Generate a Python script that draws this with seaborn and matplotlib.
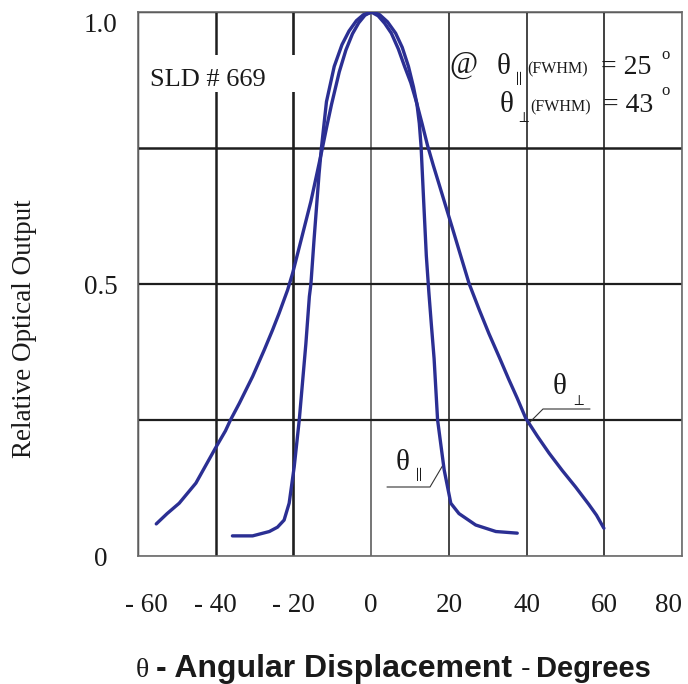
import matplotlib
matplotlib.use("Agg")
import matplotlib.pyplot as plt
from matplotlib.patches import Rectangle
from matplotlib.transforms import ScaledTranslation
import seaborn as sns
import pandas as pd

# ---- data ----
perp_deg = [-55.3, -52.5, -49.4, -45.1, -40.1, -37.5, -36.2, -33.9, -30.5, -27.5,
            -25.4, -23.7, -21.5, -20.2, -17.7, -15.5, -13.8, -12.6, -11.4, -10.2,
            -8.2, -6.5, -4.8, -3.2, -1.6, 0.0, 1.8, 3.5, 5.2, 7.0,
            8.6, 10.2, 11.6, 13.1, 14.5, 16.0, 17.5, 19.2, 20.9, 22.6,
            25.2, 27.8, 30.3, 33.0, 35.4, 37.6, 39.8, 42.8, 45.8, 49.2,
            52.6, 56.0, 58.0, 59.9]
perp_val = [0.059, 0.078, 0.097, 0.134, 0.198, 0.23, 0.25, 0.281, 0.33, 0.379,
            0.415, 0.446, 0.489, 0.52, 0.59, 0.652, 0.708, 0.748, 0.79, 0.83,
            0.89, 0.93, 0.96, 0.98, 0.994, 1.0, 0.993, 0.979, 0.961, 0.932,
            0.90, 0.87, 0.836, 0.795, 0.755, 0.718, 0.683, 0.643, 0.603, 0.5625,
            0.501, 0.453, 0.409, 0.365, 0.325, 0.29, 0.253, 0.22, 0.189, 0.157,
            0.127, 0.095, 0.075, 0.051]

par_deg = [-35.7, -30.5, -26.2, -24.1, -22.4, -21.1, -19.8, -18.5, -16.8, -15.9,
           -15.5, -14.7, -13.4, -12.8, -11.5, -9.5, -7.5, -5.7, -3.8, -2.0,
           0.3, 2.2, 4.2, 6.3, 8.0, 9.6, 10.9, 11.8, 12.4, 12.85,
           13.5, 14.2, 14.85, 15.5, 16.2, 17.1, 18.8, 20.5, 22.6, 26.9,
           32.1, 37.6]
par_val = [0.037, 0.037, 0.045, 0.053, 0.066, 0.097, 0.164, 0.25, 0.39, 0.477,
           0.50, 0.581, 0.703, 0.75, 0.835, 0.90, 0.94, 0.965, 0.984, 0.995,
           1.0, 0.995, 0.982, 0.961, 0.935, 0.90, 0.862, 0.83, 0.795, 0.753,
           0.655, 0.552, 0.485, 0.425, 0.363, 0.25, 0.158, 0.097, 0.078, 0.057,
           0.045, 0.042]

x_ticks = [-60, -40, -20, 0, 20, 40, 60, 80]
x_ticklabels = ["- 60", "- 40", "- 20", "0", "20", "40", "60", "80"]
y_ticks = [0, 0.25, 0.5, 0.75, 1.0]
y_ticklabels = ["0", "", "0.5", "", "1.0"]

# ---- styling ----
sns.set_theme(style="white")
plt.rcParams["font.family"] = ["Liberation Serif", "DejaVu Serif"]
plt.rcParams["mathtext.fontset"] = "stix"

W, H = 688, 684
fig = plt.figure(figsize=(W / 100, H / 100), dpi=100)
L, R, T, B = 138, 682, 12, 556
ax = fig.add_axes([L / W, 1 - B / H, (R - L) / W, (B - T) / H])

CURVE = "#2b2f93"
df_perp = pd.DataFrame({"deg": perp_deg, "val": perp_val})
df_par = pd.DataFrame({"deg": par_deg, "val": par_val})
for d in (df_perp, df_par):
    sns.lineplot(data=d, x="deg", y="val", ax=ax, color=CURVE, lw=2.4,
                 estimator=None, sort=False, zorder=4,
                 solid_joinstyle="round", solid_capstyle="round")

ax.set_xlim(-60, 80)
ax.set_ylim(0, 1)
ax.set_xticks(x_ticks)
ax.set_xticklabels(x_ticklabels, fontsize=19.5)
ax.set_yticks(y_ticks)
ax.set_yticklabels(y_ticklabels, fontsize=19.5)
ax.tick_params(axis="x", length=0, pad=27, colors="#1a1a1a")
ax.tick_params(axis="y", length=0, pad=27, colors="#1a1a1a")
ylabs = ax.get_yticklabels()
for lab in ylabs:
    lab.set_horizontalalignment("center")
ylabs[-1].set_transform(ylabs[-1].get_transform()
                        + ScaledTranslation(0, -10 / 100, fig.dpi_scale_trans))
xlabs = ax.get_xticklabels()
xlabs[-1].set_horizontalalignment("right")
xlabs[0].set_transform(xlabs[0].get_transform()
                       + ScaledTranslation(8 / 100, 0, fig.dpi_scale_trans))
ax.grid(True, color="#1e1e1e", lw=1.4)
ax.set_axisbelow(True)
# the scanned grid has slightly uneven line weights
xgrid_w = [1.0, 1.8, 1.9, 1.1, 1.2, 1.2, 1.4, 1.0]
xgrid_c = ["#1e1e1e", "#1e1e1e", "#1e1e1e", "#505050", "#262626", "#262626", "#404040", "#1e1e1e"]
for gl, w, c in zip(ax.xaxis.get_gridlines(), xgrid_w, xgrid_c):
    gl.set_linewidth(w)
    gl.set_color(c)
ygrid_w = [1.0, 1.6, 1.6, 1.8, 1.0]
for gl, w in zip(ax.yaxis.get_gridlines(), ygrid_w):
    gl.set_linewidth(w)
for s in ax.spines.values():
    s.set_color("#6a6a6a")
    s.set_linewidth(1.2)
ax.set_xlabel("")
ax.set_ylabel("Relative Optical Output", fontsize=19.5, color="#1a1a1a")
ax.yaxis.set_label_coords((37 - L) / (R - L), (B - 329) / (B - T))

# white box behind the SLD label
ax.add_patch(Rectangle(((145 - L) / (R - L), (B - 92) / (B - T)),
                       (298 - 145) / (R - L), 37 / (B - T),
                       transform=ax.transAxes, facecolor="white",
                       edgecolor="none", zorder=1))

def ptext(px, py, s, **kw):
    kw.setdefault("ha", "left")
    kw.setdefault("va", "baseline")
    kw.setdefault("color", "#1a1a1a")
    fig.text(px / W, 1 - py / H, s, **kw)

ptext(150, 86, "SLD # 669", fontsize=19)

# top-right FWHM annotation
ptext(449, 73, "@", fontsize=22)
ptext(497, 74, "\u03b8", fontsize=21)
ptext(512, 82, r"$\parallel$", fontsize=11)
ptext(527, 73, "(FWHM)", fontsize=11.5)
ptext(601, 74, "= 25", fontsize=20)
ptext(661, 59, "o", fontsize=12)

ptext(500, 112, "\u03b8", fontsize=21)
ptext(516, 122, r"$\perp$", fontsize=11)
ptext(530, 111, "(FWHM)", fontsize=11.5)
ptext(603, 112, "= 43", fontsize=20)
ptext(661, 95, "o", fontsize=12)

# curve labels with leader lines
ptext(553, 394, "\u03b8", fontsize=21)
ptext(571, 405, r"$\perp$", fontsize=11)
ptext(396, 470, "\u03b8", fontsize=21)
ptext(412, 478, r"$\parallel$", fontsize=11)

def px2data(px, py):
    return (-60 + (px - L) / (R - L) * 140, (B - py) / (B - T))

lead1 = [px2data(527, 425), px2data(543, 409), px2data(590, 409)]
lead2 = [px2data(387, 487), px2data(430, 487), px2data(443, 465)]
for lead in (lead1, lead2):
    xs, ys = zip(*lead)
    ax.plot(xs, ys, color="#333333", lw=0.8, zorder=3, clip_on=False)

# x axis title
SANS = ["Liberation Sans", "DejaVu Sans"]
ptext(136, 677, "\u03b8", fontsize=20)
ptext(156, 677, "- Angular Displacement", fontsize=23, family=SANS, weight="bold")
ptext(521, 677, "-", fontsize=21, family=SANS)
ptext(536, 677, "Degrees", fontsize=21, family=SANS, weight="bold")

fig.savefig("out.png", dpi=100, facecolor="white")
